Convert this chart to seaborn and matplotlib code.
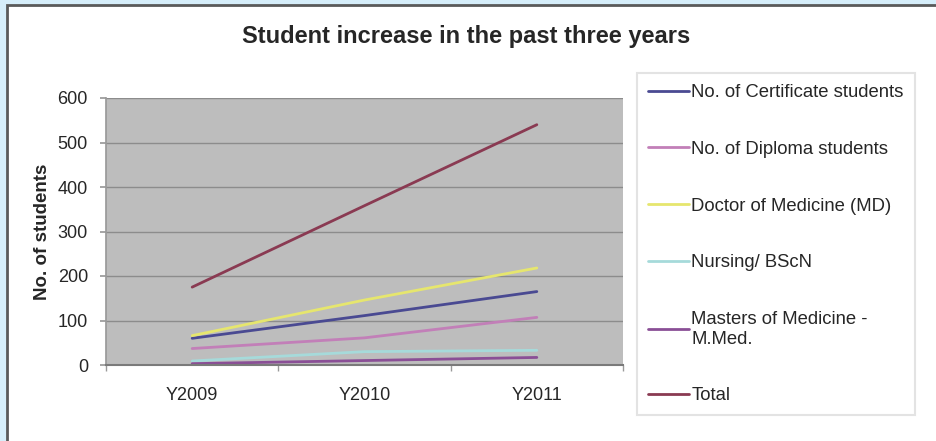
import matplotlib
matplotlib.use("Agg")
import matplotlib.pyplot as plt
from matplotlib.patches import Rectangle
import seaborn as sns
import pandas as pd

years = ["Y2009", "Y2010", "Y2011"]
certificate = [60, 111, 165]
diploma = [37, 61, 107]
doctor_md = [66, 146, 218]
nursing = [9, 30, 33]
masters = [3, 10, 17]
total = [175, 358, 540]

series_names = [
    "No. of Certificate students",
    "No. of Diploma students",
    "Doctor of Medicine (MD)",
    "Nursing/ BScN",
    "Masters of Medicine -\nM.Med.",
    "Total",
]
series_values = [certificate, diploma, doctor_md, nursing, masters, total]
colors = ["#4a4a92", "#c27fb8", "#e6e66e", "#a6dada", "#8a4f96", "#8a3a52"]

rows = []
for name, vals in zip(series_names, series_values):
    for y, v in zip(years, vals):
        rows.append({"Year": y, "Series": name, "Students": v})
df = pd.DataFrame(rows)

sns.set_theme(style="white")
plt.rcParams["font.family"] = ["Liberation Sans", "DejaVu Sans"]

W, H = 937, 441
fig = plt.figure(figsize=(W / 100, H / 100), dpi=100)
fig.patch.set_facecolor("#d6eefa")
# white panel with dark border at top/left
fig.patches.append(Rectangle((7 / W, -0.1), 1.2, 1 - 5 / H + 0.1,
                             transform=fig.transFigure, facecolor="white",
                             edgecolor="#5a5a5a", linewidth=2, zorder=-5))

ax = fig.add_axes([106 / W, 1 - 365 / H, (623 - 106) / W, (365 - 98) / H])
ax.set_zorder(2)
ax.set_facecolor("#bdbdbd")

sns.lineplot(data=df, x="Year", y="Students", hue="Series",
             palette=colors, hue_order=series_names, linewidth=2,
             sort=False, ax=ax, legend=False)

ax.set_xlim(-0.5, 2.5)
ax.set_ylim(0, 600)
ax.set_yticks(range(0, 601, 100))
ax.set_xticks([-0.5, 0.5, 1.5, 2.5], minor=True)
ax.yaxis.grid(True, color="#8c8c8c", linewidth=1)
ax.xaxis.grid(False)
for s in ["top", "right"]:
    ax.spines[s].set_visible(False)
ax.spines["left"].set_color("#9a9a9a")
ax.spines["bottom"].set_color("#7a7a7a")
ax.spines["bottom"].set_linewidth(1.5)
ax.tick_params(axis="y", left=True, length=4, color="#9a9a9a", labelsize=13, pad=9)
ax.tick_params(axis="x", which="major", bottom=False, length=0, labelsize=13, pad=16)
ax.tick_params(axis="x", which="minor", bottom=True, length=4, color="#9a9a9a")
ax.set_xlabel("")
ax.set_ylabel("No. of students", fontsize=13.5, fontweight="bold", labelpad=5)

fig.text(466 / W, 1 - 37 / H, "Student increase in the past three years",
         ha="center", va="center", fontsize=17, fontweight="bold", zorder=3)

handles = [plt.Line2D([], [], color=c, linewidth=2) for c in colors]
leg = fig.legend(handles, series_names, loc="upper left",
                 bbox_to_anchor=(637 / W, 1 - 73 / H),
                 fontsize=13.3, frameon=True, fancybox=False,
                 handlelength=2.2, handletextpad=0.15, labelspacing=2.15,
                 borderpad=0.6, borderaxespad=0)
leg.set_zorder(3)
leg.get_frame().set_edgecolor("#dcdcdc")
leg.get_frame().set_linewidth(1.5)

fig.savefig("out.png", dpi=100, facecolor=fig.get_facecolor())
